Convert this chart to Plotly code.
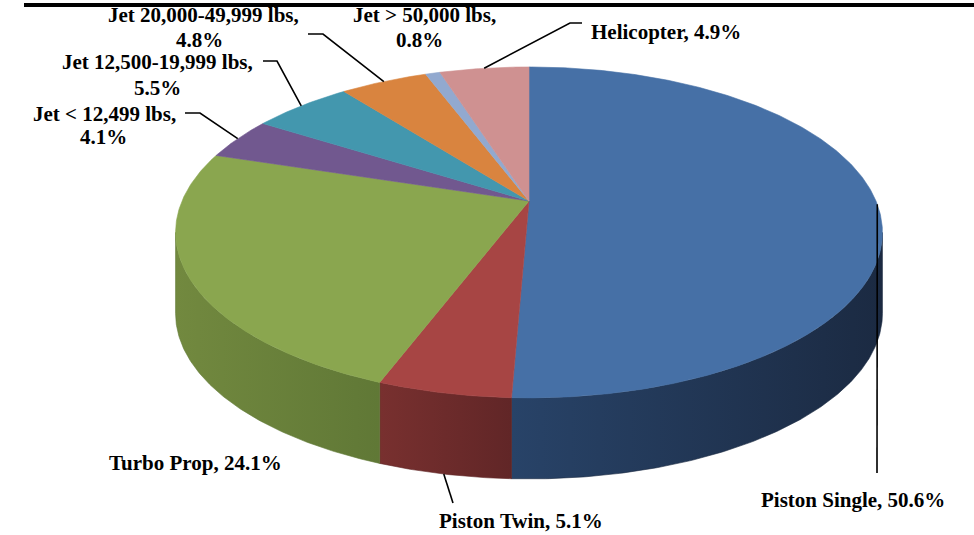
import numpy as np
import plotly.graph_objects as go

# ---------------- data ----------------
categories = ["Piston Single", "Piston Twin", "Turbo Prop", "Jet < 12,499 lbs",
              "Jet 12,500-19,999 lbs", "Jet 20,000-49,999 lbs", "Jet > 50,000 lbs",
              "Helicopter"]
values = [50.6, 5.1, 24.1, 4.1, 5.5, 4.8, 0.8, 4.9]

# ---------------- styles ----------------
top_colors = ["#4670A6", "#A74544", "#8AA64F", "#71588F", "#4397AE", "#D9843F",
              "#92A9CF", "#CF9191"]
side_left = ["#284368", "#78302F", "#72893F", "#5A466F", "#35788A", "#AC6930",
             "#7487A5", "#A47373"]
side_right = ["#1B2A42", "#612627", "#607836", "#4A3A5C", "#2C6372", "#8E5628",
              "#60708A", "#885F5F"]

W, H = 974, 535
CX, CY = 529, 201        # projected pie centre
A, B = 347, 159.5        # horizontal / vertical radii
P = 0.19                 # perspective strength
DEPTH = 81               # thickness of the pie

def proj(theta_deg):
    t = np.radians(np.asarray(theta_deg, dtype=float))
    X, Z = np.sin(t), np.cos(t)
    s = 1.0 / (1.0 + P * Z)
    return CX + A * X * s, CY - B * Z * s

total = sum(values)
bounds = np.concatenate([[0.0], np.cumsum(values) / total * 360.0])
vis_lo = np.degrees(np.arccos(-P))
vis_hi = 360.0 - vis_lo

fig = go.Figure()

# side walls (front part)
for i in range(len(values)):
    a = max(bounds[i], vis_lo)
    b = min(bounds[i + 1], vis_hi)
    if a >= b:
        continue
    th = np.linspace(a, b, max(8, int((b - a) * 2)))
    xt, yt = proj(th)
    xs = np.concatenate([xt, xt[::-1], xt[:1]])
    ys = np.concatenate([yt, (yt + DEPTH)[::-1], yt[:1]])
    fig.add_trace(go.Scatter(
        x=xs, y=ys, mode="lines", fill="toself",
        fillgradient=dict(type="horizontal",
                          colorscale=[[0, side_left[i]], [1, side_right[i]]]),
        line=dict(width=0.6, color=side_right[i]),
        hoverinfo="skip", showlegend=False))

# top faces
for i in range(len(values)):
    a, b = bounds[i], bounds[i + 1]
    th = np.linspace(a, b, max(6, int((b - a) * 2)))
    xt, yt = proj(th)
    xs = np.concatenate([[CX], xt, [CX]])
    ys = np.concatenate([[CY], yt, [CY]])
    fig.add_trace(go.Scatter(
        x=xs, y=ys, mode="lines", fill="toself", fillcolor=top_colors[i],
        line=dict(width=0.6, color=top_colors[i]),
        hoverinfo="skip", showlegend=False))

# ---------------- labels & leader lines ----------------
mids = (bounds[:-1] + bounds[1:]) / 2.0
label_lines = [
    [f"{categories[0]}, {values[0]}%"],
    [f"{categories[1]}, {values[1]}%"],
    [f"{categories[2]}, {values[2]}%"],
    [f"{categories[3]},", f"{values[3]}%"],
    [f"{categories[4]},", f"{values[4]}%"],
    [f"{categories[5]},", f"{values[5]}%"],
    [f"{categories[6]},", f"{values[6]}%"],
    [f"{categories[7]}, {values[7]}%"],
]
label_pos = [
    [(853, 500)],
    [(521, 521)],
    [(195, 463)],
    [(104, 114), (103, 137)],
    [(157, 62), (157, 88)],
    [(203, 15), (199, 40)],
    [(424, 15), (419, 40)],
    [(666, 32)],
]
# leader elbows (label side); None = no leader
leader_pts = [
    [(877, 473)],
    [(453, 503)],
    None,
    [(185, 113), (200, 113)],
    [(263, 61), (277, 61)],
    [(308, 34), (323, 34)],
    None,
    [(582, 23), (570, 23)],
]
from_bottom = [False, True, False, False, False, False, False, False]

for i in range(len(values)):
    if leader_pts[i] is None:
        continue
    mx, my = proj(mids[i])
    my = float(my) + (DEPTH if from_bottom[i] else 0)
    xs = [p[0] for p in leader_pts[i]] + [float(mx)]
    ys = [p[1] for p in leader_pts[i]] + [my]
    fig.add_trace(go.Scatter(x=xs, y=ys, mode="lines",
                             line=dict(color="black", width=1.6),
                             hoverinfo="skip", showlegend=False))

for lines, poss in zip(label_lines, label_pos):
    for txt, (x, y) in zip(lines, poss):
        fig.add_annotation(x=x, y=y, text=f"<b>{txt}</b>", showarrow=False,
                           xanchor="center", yanchor="middle",
                           font=dict(family="Liberation Serif", size=21, color="black"))

# top border line
fig.add_shape(type="line", x0=24, x1=W, y0=5, y1=5,
              line=dict(color="black", width=4))

fig.update_layout(
    width=W, height=H, margin=dict(l=0, r=0, t=0, b=0),
    paper_bgcolor="white", plot_bgcolor="white",
    xaxis=dict(range=[0, W], visible=False, fixedrange=True),
    yaxis=dict(range=[H, 0], visible=False, fixedrange=True),
)

fig.write_html("out.html",
               config={"displayModeBar": False},
               post_script="document.body.style.margin='0';"
                           "document.body.style.overflow='hidden';")
